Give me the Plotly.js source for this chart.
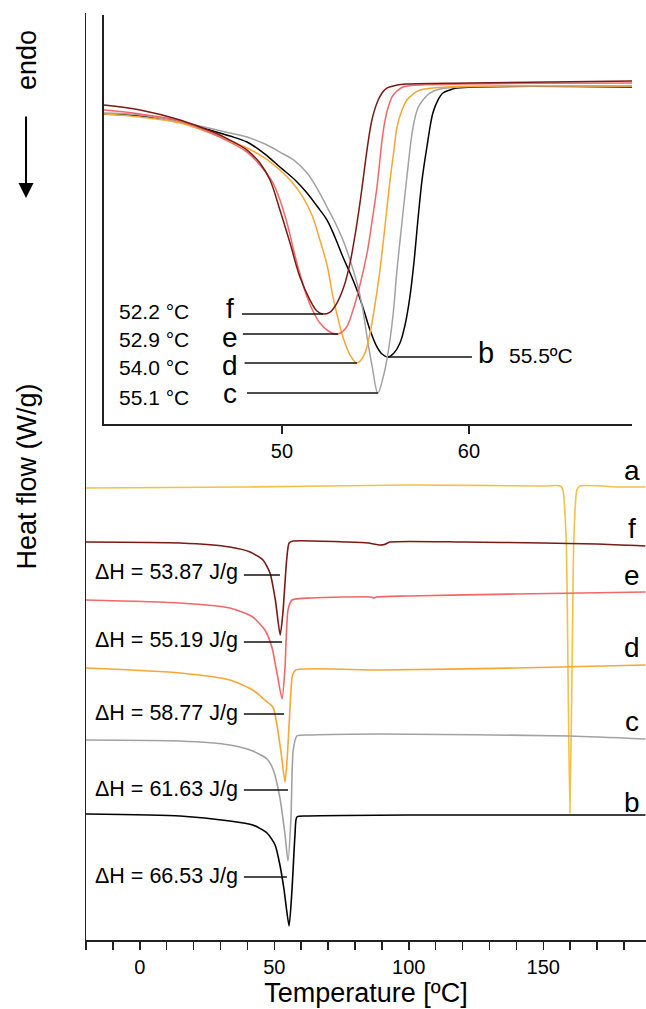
<!DOCTYPE html>
<html>
<head>
<meta charset="utf-8">
<script src="https://cdn.plot.ly/plotly-3.0.1.min.js"></script>
<style>html,body{margin:0;padding:0;background:#fff;}#chart{width:646px;height:1009px;}</style>
</head>
<body>
<div id="chart"></div>
<script>
// ---------- Main DSC overview (full temperature range) ----------
const T_a  = [-20, 40, 100, 150, 156.5, 157.3, 158.5, 159.2, 159.9, 160.7, 161.4, 162.5, 163.6, 178.5, 188];
const HF_a = [4.52, 4.53, 4.55, 4.54, 4.54, 4.50, 4.03, 2.70, 1.27, 2.70, 4.03, 4.50, 4.54, 4.53, 4.53];

const T_f  = [-20, 15, 33.5, 41, 45.8, 48.4, 50.4, 52.2, 53.2, 54.6, 55.5, 57, 77, 85, 87, 89, 91, 93, 120, 150, 170, 188];
const HF_f = [3.98, 3.97, 3.93, 3.88, 3.80, 3.67, 3.40, 3.05, 3.27, 3.80, 3.97, 3.99, 3.98, 3.97, 3.96, 3.95, 3.955, 3.98, 3.98, 3.97, 3.96, 3.94];

const T_e  = [-20, 15, 33.5, 42, 46.5, 49.1, 51, 52.9, 54, 55.1, 56.6, 64, 86, 87, 88, 100, 140, 188];
const HF_e = [3.40, 3.37, 3.32, 3.23, 3.10, 2.93, 2.67, 2.41, 2.73, 3.30, 3.40, 3.42, 3.43, 3.42, 3.43, 3.44, 3.46, 3.48];

const T_d  = [-20, 15, 33.5, 42, 46.5, 49.5, 51, 52.5, 54.0, 55, 55.7, 56.8, 58, 89, 140, 188];
const HF_d = [2.72, 2.67, 2.60, 2.50, 2.40, 2.33, 2.15, 1.88, 1.58, 1.90, 2.25, 2.65, 2.70, 2.70, 2.72, 2.75];

const T_c  = [-20, 15, 33.5, 42, 47.3, 49.5, 52.1, 54.0, 55.1, 56.2, 57.0, 58.4, 64, 89, 160, 188];
const HF_c = [2.00, 1.99, 1.95, 1.89, 1.81, 1.71, 1.42, 1.05, 0.79, 1.22, 1.89, 2.04, 2.05, 2.06, 2.04, 2.01];

const T_b  = [-20, 15, 33.5, 42, 47.3, 50.3, 52.1, 53.6, 55.5, 56.6, 57.7, 58.4, 62, 100, 188];
const HF_b = [1.26, 1.24, 1.19, 1.15, 1.07, 0.95, 0.75, 0.51, 0.14, 0.51, 1.05, 1.23, 1.24, 1.25, 1.25];

// ---------- Inset: melting region ----------
const iT_f  = [40.48, 42.41, 44.55, 46.31, 47.22, 48.13, 48.82, 49.36, 49.89, 50.43, 50.96, 51.50, 51.87, 52.19, 52.57, 52.94, 53.32, 53.64, 53.90, 54.17, 54.39, 54.60, 54.81, 55.08, 55.35, 55.61, 56.15, 56.68, 60.05, 68.72];
const iHF_f = [3.19, 3.14, 3.04, 2.92, 2.84, 2.74, 2.61, 2.44, 2.14, 1.81, 1.47, 1.24, 1.13, 1.10, 1.12, 1.21, 1.38, 1.61, 1.88, 2.21, 2.52, 2.81, 3.04, 3.21, 3.31, 3.36, 3.39, 3.40, 3.41, 3.43];

const iT_e  = [40.48, 42.41, 44.55, 46.31, 47.22, 48.13, 48.82, 49.52, 49.89, 50.27, 50.80, 51.34, 51.71, 52.03, 52.57, 52.99, 53.42, 53.80, 54.17, 54.55, 54.81, 55.08, 55.40, 55.61, 55.88, 56.15, 56.47, 57.38, 68.72];
const iHF_e = [3.14, 3.10, 3.03, 2.90, 2.82, 2.72, 2.59, 2.41, 2.24, 2.01, 1.61, 1.27, 1.11, 1.01, 0.92, 0.90, 0.96, 1.14, 1.39, 1.71, 2.02, 2.37, 2.91, 3.12, 3.27, 3.33, 3.37, 3.39, 3.41];

const iT_d  = [40.48, 42.41, 44.55, 46.31, 47.22, 48.13, 49.09, 49.89, 50.53, 51.12, 51.60, 52.03, 52.41, 52.73, 52.99, 53.26, 53.64, 54.01, 54.39, 54.71, 54.97, 55.24, 55.51, 55.78, 55.99, 56.15, 56.42, 56.68, 57.01, 57.38, 58.82, 68.72];
const iHF_d = [3.10, 3.07, 3.01, 2.90, 2.83, 2.76, 2.66, 2.54, 2.42, 2.27, 2.09, 1.84, 1.59, 1.27, 1.06, 0.87, 0.69, 0.61, 0.69, 0.91, 1.19, 1.54, 1.98, 2.44, 2.74, 2.97, 3.14, 3.24, 3.30, 3.34, 3.37, 3.38];

const iT_c  = [40.48, 42.41, 44.55, 46.31, 47.22, 48.13, 49.09, 49.89, 50.70, 51.34, 51.87, 52.41, 52.83, 53.26, 53.64, 54.01, 54.28, 54.55, 54.81, 55.13, 55.40, 55.67, 55.94, 56.15, 56.42, 56.68, 57.01, 57.27, 57.54, 57.91, 58.45, 59.52, 68.72];
const iHF_c = [3.11, 3.09, 3.02, 2.95, 2.91, 2.87, 2.80, 2.72, 2.63, 2.51, 2.36, 2.17, 2.02, 1.84, 1.64, 1.41, 1.19, 0.87, 0.59, 0.31, 0.46, 0.71, 1.09, 1.54, 2.02, 2.47, 2.97, 3.16, 3.24, 3.31, 3.35, 3.37, 3.38];

const iT_b  = [40.48, 42.41, 44.55, 46.31, 47.22, 48.13, 49.09, 49.89, 50.70, 51.34, 51.87, 52.41, 52.83, 53.26, 53.64, 54.01, 54.39, 54.71, 55.03, 55.35, 55.67, 55.99, 56.31, 56.58, 56.84, 57.06, 57.27, 57.49, 57.75, 58.07, 58.34, 58.61, 58.98, 59.36, 68.72];
const iHF_b = [3.10, 3.08, 3.02, 2.93, 2.88, 2.82, 2.70, 2.57, 2.44, 2.31, 2.18, 2.04, 1.87, 1.67, 1.51, 1.34, 1.13, 0.94, 0.79, 0.70, 0.67, 0.71, 0.81, 0.99, 1.27, 1.62, 2.04, 2.44, 2.77, 3.11, 3.24, 3.31, 3.34, 3.36, 3.37];

// ---------- Labels ----------
const sampleNames  = ['a', 'f', 'e', 'd', 'c', 'b'];
const sampleColors = {a: '#F4C046', f: '#7A1A14', e: '#F26767', d: '#F8A634', c: '#A2A2A2', b: '#000000'};
const peakLabels   = ['52.2 °C', '52.9 °C', '54.0 °C', '55.1 °C'];   // f, e, d, c
const peakB        = '55.5ºC';
const enthalpyLabels = ['ΔH = 53.87 J/g', 'ΔH = 55.19 J/g', 'ΔH = 58.77 J/g', 'ΔH = 61.63 J/g', 'ΔH = 66.53 J/g']; // f, e, d, c, b
const mainTickVals = [-20, -10, 0, 10, 20, 30, 40, 50, 60, 70, 80, 90, 100, 110, 120, 130, 140, 150, 160, 170, 180];
const mainTickText = ['', '', '0', '', '', '', '', '50', '', '', '', '', '100', '', '', '', '', '150', '', '', ''];
const insetTickVals = [50, 60];

const FONT = 'Liberation Sans, Arial, Helvetica, sans-serif';

const mainSeries = {a: [T_a, HF_a], f: [T_f, HF_f], e: [T_e, HF_e], d: [T_d, HF_d], c: [T_c, HF_c], b: [T_b, HF_b]};
const insetSeries = {f: [iT_f, iHF_f], e: [iT_e, iHF_e], d: [iT_d, iHF_d], c: [iT_c, iHF_c], b: [iT_b, iHF_b]};

const traces = [];
sampleNames.forEach(n => {
  const s = mainSeries[n];
  traces.push({x: s[0], y: s[1], type: 'scatter', mode: 'lines', name: n, xaxis: 'x', yaxis: 'y',
    line: {color: sampleColors[n], width: 1.6, shape: 'spline', smoothing: 0.6}, hoverinfo: 'skip'});
});
['b', 'c', 'd', 'e', 'f'].forEach(n => {
  const s = insetSeries[n];
  traces.push({x: s[0], y: s[1], type: 'scatter', mode: 'lines', name: n + ' (inset)', xaxis: 'x2', yaxis: 'y2',
    line: {color: sampleColors[n], width: 1.5, shape: 'spline', smoothing: 1.0}, hoverinfo: 'skip'});
});

function minPoint(s) {
  let k = 0;
  s[1].forEach((v, i) => { if (v < s[1][k]) k = i; });
  return [s[0][k], s[1][k]];
}

const annotations = [];
const shapes = [];
const lineStyle = {color: '#111', width: 1.4};

// right-hand sample letters (main plot)
const letterY = {a: 4.70, f: 4.12, e: 3.65, d: 2.93, c: 2.19, b: 1.38};
sampleNames.forEach(n => annotations.push({xref: 'x', yref: 'y', x: 183, y: letterY[n], text: n, showarrow: false,
  font: {size: 28, family: FONT, color: '#000'}}));

// enthalpy labels and leaders (main plot)
const dhTextY = [3.68, 3.00, 2.27, 1.51, 0.64];
const dhLineY = [3.65, 2.98, 2.26, 1.50, 0.63];
const dhLineEnd = [52.1, 52.9, 53.6, 55.1, 54.7];
enthalpyLabels.forEach((t, i) => {
  annotations.push({xref: 'x', yref: 'y', x: 37.3, y: dhTextY[i], xanchor: 'right', text: t, showarrow: false,
    font: {size: 21.5, family: FONT, color: '#000'}});
  shapes.push({type: 'line', xref: 'x', yref: 'y', x0: 38.7, x1: dhLineEnd[i], y0: dhLineY[i], y1: dhLineY[i], line: lineStyle});
});

// inset labels f, e, d, c with leader lines to the curve minima
const insetOrder = ['f', 'e', 'd', 'c'];
const insetLetterY = [1.16, 0.865, 0.59, 0.305];
const insetTempY = [1.13, 0.85, 0.57, 0.27];
const insetLineStart = [47.86, 47.91, 48.0, 48.13];
insetOrder.forEach((n, i) => {
  const m = minPoint(insetSeries[n]);
  annotations.push({xref: 'x2', yref: 'y2', x: 41.2, y: insetTempY[i], xanchor: 'left', text: peakLabels[i], showarrow: false,
    font: {size: 21, family: FONT, color: '#000'}});
  annotations.push({xref: 'x2', yref: 'y2', x: 47.2, y: insetLetterY[i], text: n, showarrow: false,
    font: {size: 28, family: FONT, color: '#000'}});
  shapes.push({type: 'line', xref: 'x2', yref: 'y2', x0: insetLineStart[i], x1: m[0], y0: m[1], y1: m[1], line: lineStyle});
});
// b label
const mb = minPoint(insetSeries.b);
shapes.push({type: 'line', xref: 'x2', yref: 'y2', x0: mb[0], x1: 60.16, y0: mb[1], y1: mb[1], line: lineStyle});
annotations.push({xref: 'x2', yref: 'y2', x: 60.91, y: 0.71, text: 'b', showarrow: false, font: {size: 29, family: FONT, color: '#000'}});
annotations.push({xref: 'x2', yref: 'y2', x: 62.03, y: 0.69, xanchor: 'left', text: peakB, showarrow: false, font: {size: 21, family: FONT, color: '#000'}});

// "endo" with downward arrow
annotations.push({xref: 'paper', yref: 'paper', x: -0.1054, y: 0.9493, xanchor: 'center', yanchor: 'middle', text: 'endo', textangle: -90, showarrow: false,
  font: {size: 27, family: FONT, color: '#000'}});
annotations.push({xref: 'paper', yref: 'paper', x: -0.1071, y: 0.8004, text: '', showarrow: true, ax: 0, ay: -83,
  arrowhead: 2, arrowsize: 1.5, arrowwidth: 2, arrowcolor: '#000'});

const axisCommon = {showgrid: false, zeroline: false, showline: true, linecolor: '#222', linewidth: 1.5, fixedrange: true};

const layout = {
  width: 646, height: 1009,
  margin: {l: 86, r: 0, t: 13, b: 69, pad: 0},
  paper_bgcolor: '#fff', plot_bgcolor: 'rgba(0,0,0,0)',
  showlegend: false,
  font: {family: FONT, color: '#000'},
  xaxis: Object.assign({}, axisCommon, {range: [-20, 188.2], ticks: 'outside', ticklen: 8, tickwidth: 1.5, tickcolor: '#222',
    tickmode: 'array', tickvals: mainTickVals, ticktext: mainTickText, tickfont: {size: 20, family: FONT},
    title: {text: 'Temperature [ºC]', font: {size: 27, family: FONT}, standoff: 6}}),
  yaxis: Object.assign({}, axisCommon, {range: [0, 9.27], ticks: '', showticklabels: false,
    title: {text: 'Heat flow (W/g)', font: {size: 27, family: FONT}, standoff: 40}}),
  xaxis2: Object.assign({}, axisCommon, {domain: [0.0321, 0.975], anchor: 'y2', range: [40.48, 68.72], ticks: 'outside',
    ticklen: 8, tickwidth: 1.5, tickcolor: '#222', tickmode: 'array', tickvals: insetTickVals, tickfont: {size: 20, family: FONT}}),
  yaxis2: Object.assign({}, axisCommon, {domain: [0.5566, 0.9978], anchor: 'x2', range: [0, 4.09], ticks: '', showticklabels: false}),
  annotations: annotations,
  shapes: shapes
};

Plotly.newPlot('chart', traces, layout, {staticPlot: true, displayModeBar: false});
</script>
</body>
</html>
